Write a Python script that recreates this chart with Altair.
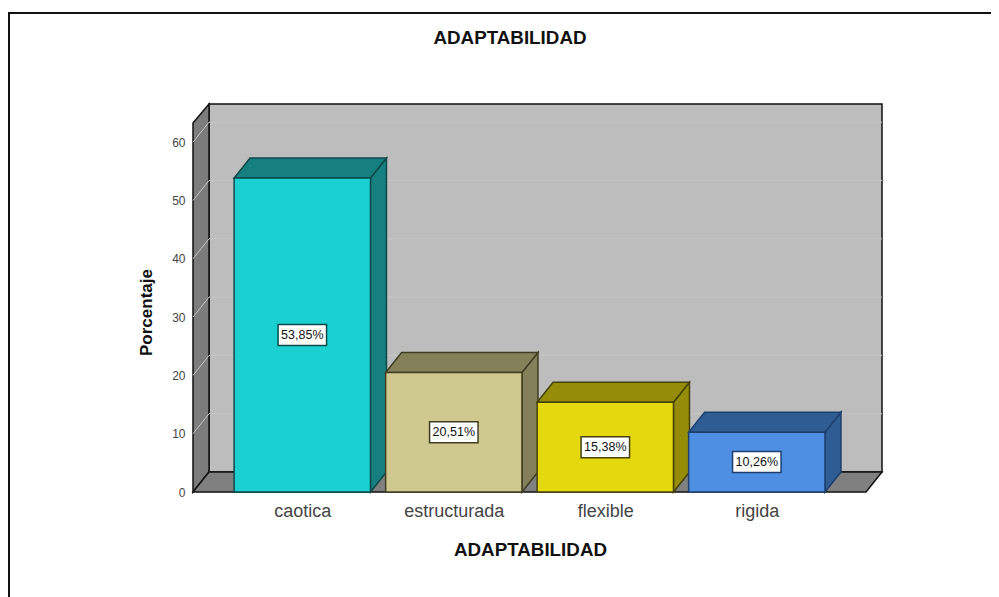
import altair as alt
import pandas as pd

categories = ["caotica", "estructurada", "flexible", "rigida"]
values = [53.85, 20.51, 15.38, 10.26]
labels = ["53,85%", "20,51%", "15,38%", "10,26%"]
front_colors = ["#1bd0d0", "#cfc98f", "#e6d80e", "#4f8fe3"]
dark_colors = ["#167f80", "#84805a", "#958d08", "#305c94"]
edge_colors = ["#0c4a4a", "#403e22", "#46420a", "#1d3f70"]
y_ticks = [0, 10, 20, 30, 40, 50, 60]
chart_title = "ADAPTABILIDAD"

# Scale extents and the depth of the fake 3D projection, in data units
X_MIN, X_MAX = -0.7215, 3.8264
Y_MAX = 66.55
WALL_TOP = 63.3
DX, DY = 0.1056, 3.43
BAR_W = 0.9
BOX_W, BOX_H = 0.16, 1.8
FLOOR_RIGHT = X_MAX - DX

xs = alt.Scale(domain=[X_MIN, X_MAX], nice=False, zero=False)
ys = alt.Scale(domain=[0, Y_MAX], nice=False, zero=False)

label_expr = "[" + ",".join(f"'{c}'" for c in categories) + "][datum.value]"
x_axis = alt.Axis(
    values=[0, 1, 2, 3], labelExpr=label_expr, domain=False, ticks=False, grid=False,
    labelFont="Liberation Sans", labelFontSize=18, labelColor="#444444", labelPadding=10,
    labelFlush=False, labelOverlap=False,
    title="ADAPTABILIDAD", titleFont="Liberation Sans", titleFontSize=18.8, titleFontWeight="bold",
    titleColor="#111111", titleX=337, titleY=57, titleAlign="center", titleBaseline="middle",
)
y_axis = alt.Axis(
    values=y_ticks, domain=False, ticks=False, grid=False, labelPadding=8,
    labelFont="Liberation Sans", labelFontSize=12, labelColor="#444444",
    title="Porcentaje", titleFont="Liberation Sans", titleFontSize=17, titleFontWeight="bold",
    titleColor="#111111", titleX=-47, titleY=208, titleAlign="center", titleBaseline="middle",
)
X = alt.X("x:Q", scale=xs, axis=x_axis)
Y = alt.Y("y:Q", scale=ys, axis=y_axis, stack=None)
X2 = alt.X2("x2:Q")
Y2 = alt.Y2("y2:Q")


def vert_face(x0, x1, y0_top, y0_bot, y1_top, y1_bot):
    return pd.DataFrame({"x": [x0, x1], "y": [y0_top, y1_top], "y2": [y0_bot, y1_bot]})


def horiz_face(xa, xb, y0, y1, shift):
    return pd.DataFrame({"y": [y0, y1], "x": [xa, xa + shift], "x2": [xb, xb + shift]})


def area_v(df, fill, stroke, width=1.5):
    return alt.Chart(df).mark_area(fill=fill, stroke=stroke, strokeWidth=width, opacity=1).encode(x=X, y=Y, y2=Y2)


def area_h(df, fill, stroke, width=1.5):
    return alt.Chart(df).mark_area(fill=fill, stroke=stroke, strokeWidth=width, opacity=1, orient="horizontal").encode(y=Y, x=X, x2=X2)


layers = []

# back wall
wall = pd.DataFrame({"x": [X_MIN + DX], "x2": [X_MAX], "y": [DY], "y2": [Y_MAX]})
layers.append(
    alt.Chart(wall).mark_rect(fill="#bdbdbd", stroke="#111111", strokeWidth=1.5).encode(x=X, x2=X2, y=Y, y2=Y2)
)
# left wall and floor
layers.append(area_v(vert_face(X_MIN, X_MIN + DX, WALL_TOP, 0, Y_MAX, DY), "#7c7c7c", "#111111"))
layers.append(area_h(horiz_face(X_MIN, FLOOR_RIGHT, 0, DY, DX), "#808080", "#111111"))

# gridlines: diagonal on the left wall, then across the back wall
rows = []
for t in y_ticks[1:]:
    rows += [
        {"t": t, "o": 0, "x": X_MIN, "y": t},
        {"t": t, "o": 1, "x": X_MIN + DX, "y": t + DY},
        {"t": t, "o": 2, "x": X_MAX, "y": t + DY},
    ]
layers.append(
    alt.Chart(pd.DataFrame(rows)).mark_line(color="#c6c6c6", strokeWidth=1).encode(
        x=X, y=Y, detail="t:N", order="o:Q"
    )
)

# bars
for i, (v, front, dark, edge) in enumerate(zip(values, front_colors, dark_colors, edge_colors)):
    left, right = i - BAR_W / 2, i + BAR_W / 2
    layers.append(area_v(vert_face(right, right + DX, v, 0, v + DY, DY), dark, edge))
    layers.append(area_h(horiz_face(left, right, v, v + DY, DX), dark, edge))
    df = pd.DataFrame({"x": [left], "x2": [right], "y": [0], "y2": [v]})
    layers.append(alt.Chart(df).mark_rect(fill=front, stroke=edge, strokeWidth=1.5).encode(x=X, x2=X2, y=Y, y2=Y2))
    box = pd.DataFrame({"x": [i - BOX_W], "x2": [i + BOX_W], "y": [v / 2 - BOX_H], "y2": [v / 2 + BOX_H]})
    layers.append(alt.Chart(box).mark_rect(fill="#ffffff", stroke=edge, strokeWidth=1.5).encode(x=X, x2=X2, y=Y, y2=Y2))
    txt = pd.DataFrame({"x": [i], "y": [v / 2], "t": [labels[i]]})
    layers.append(
        alt.Chart(txt).mark_text(font="Liberation Sans", fontSize=12.5, color="#111111", baseline="middle", align="center").encode(
            x=X, y=Y, text="t:N"
        )
    )

# outer frame: top and left edges only
layers.append(alt.Chart(wall).mark_rule(color="#111111", strokeWidth=2).encode(
    x=alt.value(-184), x2=alt.value(798), y=alt.value(-91)))
layers.append(alt.Chart(wall).mark_rule(color="#111111", strokeWidth=2).encode(
    x=alt.value(-184), y=alt.value(-92), y2=alt.value(493)))

# chart title
title_df = pd.DataFrame({"t": [chart_title]})
layers.append(
    alt.Chart(title_df).mark_text(
        font="Liberation Sans", fontSize=18.8, fontWeight="bold", color="#111111", align="center", baseline="middle"
    ).encode(x=alt.value(317), y=alt.value(-66), text="t:N")
)

chart = (
    alt.layer(*layers)
    .properties(
        width=689, height=388,
        padding={"left": 185, "top": 96, "right": 109, "bottom": 105},
        autosize=alt.AutoSizeParams(type="none"),
        background="#ffffff",
    )
    .configure_view(stroke=None)
)
chart.save("out.html", embed_options={"renderer": "svg", "actions": False})
